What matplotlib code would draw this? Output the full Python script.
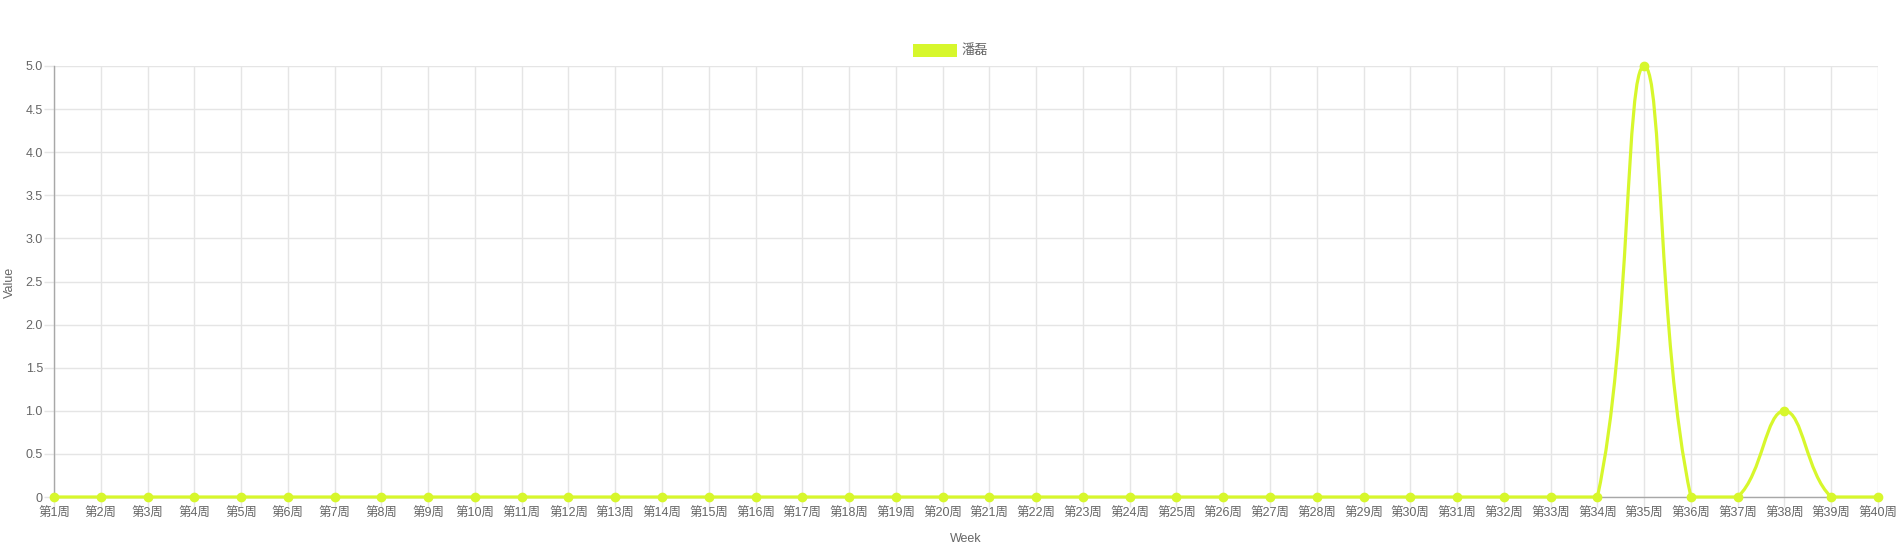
import numpy as np
import matplotlib.pyplot as plt
from matplotlib.path import Path
from matplotlib.patches import PathPatch, Rectangle

plt.rcParams['font.family'] = ['Liberation Sans', 'Noto Sans CJK SC', 'DejaVu Sans']

# 数据
weeks = ['第%d周' % i for i in range(1, 41)]
values = [0] * 40
values[34] = 5   # 第35周
values[37] = 1   # 第38周
series_name = '潘磊'
line_color = '#d7f72c'
text_color = '#666666'

W, H = 1900, 550
fig = plt.figure(figsize=(W / 100, H / 100), dpi=100)
x0, x1, y0, y1 = 54, 1878, 66, 497
ax = fig.add_axes([x0 / W, 1 - y1 / H, (x1 - x0) / W, (y1 - y0) / H])

n = len(values)
xs = np.arange(n)
ys = np.array(values, dtype=float)
ax.set_xlim(0, n - 1)
ax.set_ylim(0, 5)

# chart.js 风格的贝塞尔曲线 (tension 0.4), 在像素空间计算
sx = (x1 - x0) / (n - 1)
sy = (y1 - y0) / 5.0
px = xs * sx
py = ys * sy
t = 0.4
cp_prev = []
cp_next = []
for i in range(n):
    a = max(i - 1, 0)
    b = min(i + 1, n - 1)
    d01 = np.hypot(px[i] - px[a], py[i] - py[a])
    d12 = np.hypot(px[b] - px[i], py[b] - py[i])
    tot = d01 + d12
    s01 = d01 / tot if tot else 0
    s12 = d12 / tot if tot else 0
    fa, fb = t * s01, t * s12
    dx, dy = px[b] - px[a], py[b] - py[a]
    c1 = (px[i] - fa * dx, min(max(py[i] - fa * dy, 0), 5 * sy))
    c2 = (px[i] + fb * dx, min(max(py[i] + fb * dy, 0), 5 * sy))
    cp_prev.append(c1)
    cp_next.append(c2)

verts = [(xs[0], ys[0])]
codes = [Path.MOVETO]
for i in range(1, n):
    verts += [(cp_next[i - 1][0] / sx, cp_next[i - 1][1] / sy),
              (cp_prev[i][0] / sx, cp_prev[i][1] / sy),
              (xs[i], ys[i])]
    codes += [Path.CURVE4] * 3
ax.add_patch(PathPatch(Path(verts, codes), fill=False, edgecolor=line_color,
                       lw=2.3, clip_on=False, zorder=3))
ax.plot(xs, ys, 'o', color=line_color, ms=6, clip_on=False, zorder=4)

# 网格与坐标轴
ax.set_xticks(xs)
ax.set_xticklabels(weeks)
ax.set_yticks([0, 0.5, 1, 1.5, 2, 2.5, 3, 3.5, 4, 4.5, 5])
ax.set_yticklabels(['0', '0.5', '1.0', '1.5', '2.0', '2.5', '3.0', '3.5', '4.0', '4.5', '5.0'])
ax.grid(True, color='#e5e5e5', lw=1)
ax.tick_params(axis='both', colors='#e5e5e5', length=7, width=1, labelcolor=text_color,
               labelsize=9, pad=1)
for s in ['top', 'right']:
    ax.spines[s].set_visible(False)
for s in ['left', 'bottom']:
    ax.spines[s].set_color('#a8a8a8')
    ax.spines[s].set_linewidth(1)
ax.set_axisbelow(True)

fig.text(10 / W, 1 - 282 / H, 'Value', rotation=90, ha='center', va='center',
         color=text_color, fontsize=9)
fig.text((x0 + x1) / 2 / W, 1 - 539 / H, 'Week', ha='center', va='center',
         color=text_color, fontsize=9)

# 图例
fig.patches.append(Rectangle((913 / W, 1 - 57 / H), 44 / W, 13 / H, transform=fig.transFigure,
                             facecolor=line_color, edgecolor='none'))
fig.text(961 / W, 1 - 50.5 / H, series_name, ha='left', va='center', color=text_color,
         fontsize=9.5)

fig.savefig('out.png', dpi=100, facecolor='white')
